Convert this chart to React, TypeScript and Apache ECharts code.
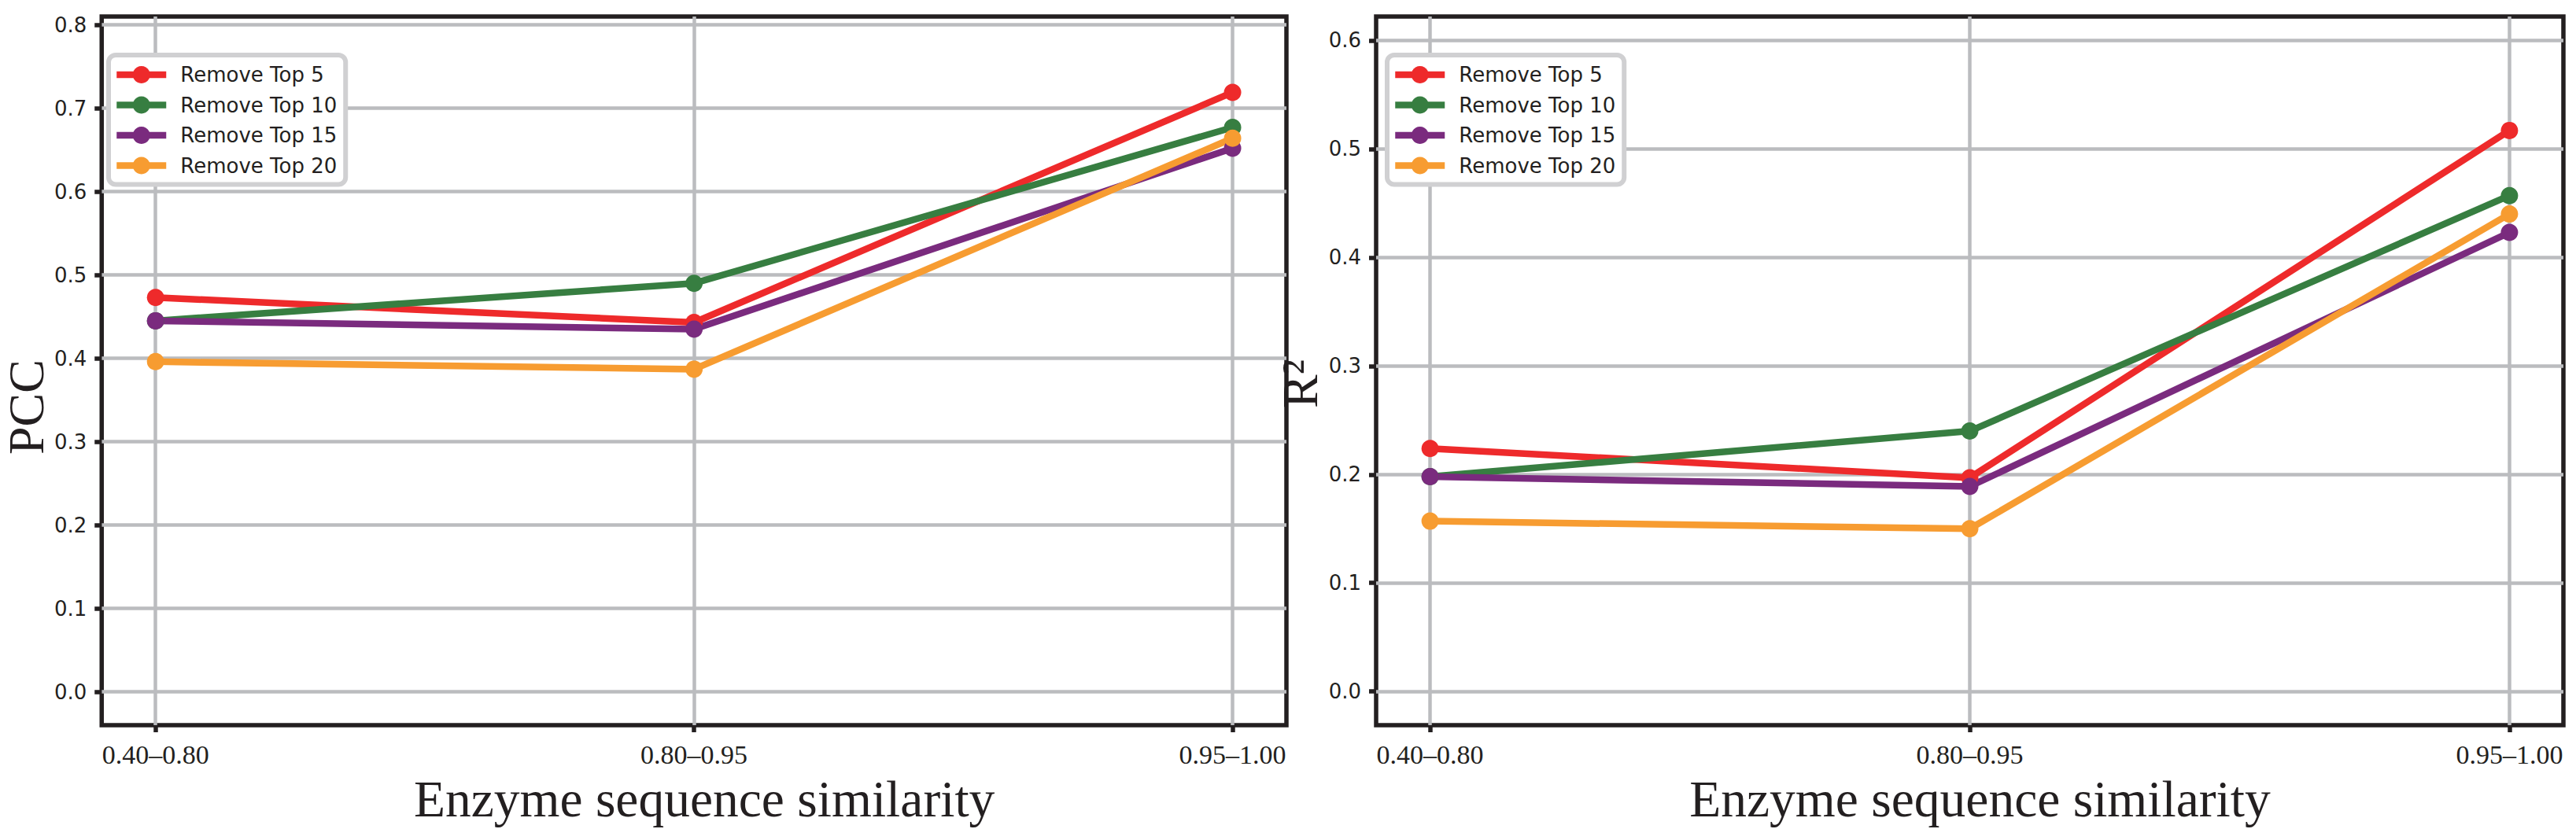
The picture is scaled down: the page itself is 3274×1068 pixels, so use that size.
import React, { useEffect, useRef } from 'react';
import * as echarts from 'echarts';

const categories = ['0.40–0.80', '0.80–0.95', '0.95–1.00'];
const categoryIndex = [0, 1, 2];
const seriesNames = ['Remove Top 5', 'Remove Top 10', 'Remove Top 15', 'Remove Top 20'];
const seriesColors = ['#ee2a2b', '#377e41', '#7a2b7e', '#f79c31'];

const pccTop5 = [0.473, 0.443, 0.719];
const pccTop10 = [0.445, 0.49, 0.677];
const pccTop15 = [0.445, 0.435, 0.652];
const pccTop20 = [0.396, 0.387, 0.664];

const r2Top5 = [0.224, 0.197, 0.517];
const r2Top10 = [0.198, 0.24, 0.457];
const r2Top15 = [0.198, 0.189, 0.423];
const r2Top20 = [0.157, 0.15, 0.44];

const pccTicks = [0, 0.1, 0.2, 0.3, 0.4, 0.5, 0.6, 0.7, 0.8];
const r2Ticks = [0, 0.1, 0.2, 0.3, 0.4, 0.5, 0.6];

const pccValues = [pccTop5, pccTop10, pccTop15, pccTop20];
const r2Values = [r2Top5, r2Top10, r2Top15, r2Top20];

const INK = '#231f20';
const GRIDC = '#bbbcbf';

function makeX(gridIndex: number) {
  return {
    type: 'value',
    gridIndex,
    min: -0.1,
    max: 2.1,
    name: 'Enzyme sequence similarity',
    nameLocation: 'middle',
    nameGap: 61,
    nameTextStyle: { fontFamily: 'Liberation Serif', fontSize: 65.5, color: INK, padding: [0, 0, 0, 26] },
    axisLine: { show: false, onZero: false },
    axisTick: { show: true, inside: false, length: 9, customValues: categoryIndex, lineStyle: { color: INK, width: 5.5 } },
    axisLabel: {
      customValues: categoryIndex,
      formatter: (v: number) => categories[Math.round(v)],
      fontFamily: 'Liberation Serif',
      fontSize: 34,
      color: INK,
      margin: 20,
    },
    splitLine: { show: true, lineStyle: { color: GRIDC, width: 4.5 } },
  };
}

function makeY(gridIndex: number, name: string, min: number, max: number, ticks: number[], nameGap: number, shift: number) {
  return {
    type: 'value',
    gridIndex,
    min,
    max,
    name,
    nameLocation: 'middle',
    nameGap,
    nameTextStyle: { fontFamily: 'Liberation Serif', fontSize: 64, color: INK, padding: [0, shift, 0, 0] },
    axisLine: { show: false, onZero: false },
    axisTick: { show: true, inside: false, length: 9, customValues: ticks, lineStyle: { color: INK, width: 5.5 } },
    axisLabel: {
      customValues: ticks,
      formatter: (v: number) => v.toFixed(1),
      fontFamily: 'DejaVu Sans',
      fontSize: 26,
      color: INK,
      margin: 19,
    },
    splitLine: { show: true, lineStyle: { color: GRIDC, width: 4.5 } },
  };
}

function makeLegend(left: number) {
  return {
    orient: 'vertical',
    left,
    top: 70,
    data: seriesNames,
    itemWidth: 63,
    itemHeight: 27.5,
    itemGap: 12.5,
    padding: [12, 11, 11, 6],
    backgroundColor: '#ffffff',
    borderColor: '#d0d0d2',
    borderWidth: 6,
    borderRadius: 9,
    lineStyle: { width: 8.5 },
    textStyle: {
      fontFamily: 'DejaVu Sans',
      fontSize: 26,
      color: INK,
      padding: [0, 0, 0, 13],
    },
  };
}

function makeSeries(values: number[][], axisIndex: number) {
  return values.map((vals, i) => ({
    type: 'line',
    name: seriesNames[i],
    xAxisIndex: axisIndex,
    yAxisIndex: axisIndex,
    data: vals.map((v, j) => [categoryIndex[j], v]),
    symbol: 'circle',
    symbolSize: 22,
    lineStyle: { color: seriesColors[i], width: 8.5 },
    itemStyle: { color: seriesColors[i] },
    color: seriesColors[i],
  }));
}

export default function App() {
  const ref = useRef<HTMLDivElement>(null);
  useEffect(() => {
    document.body.style.margin = '0';
    if (!ref.current) return;
    const chart = echarts.init(ref.current, undefined, { renderer: 'svg' });
    chart.setOption({
      animation: false,
      backgroundColor: '#ffffff',
      grid: [
        { left: 122, right: 3274 - 1635, top: 21, bottom: 146, show: true, borderColor: INK, borderWidth: 5.5, backgroundColor: 'transparent' },
        { left: 1749, right: 3274 - 3258, top: 21, bottom: 146, show: true, borderColor: INK, borderWidth: 5.5, backgroundColor: 'transparent' },
      ],
      xAxis: [makeX(0), makeX(1)],
      yAxis: [
        makeY(0, 'PCC', -0.04, 0.81, pccTicks, 46, 92),
        makeY(1, 'R²', -0.031, 0.622, r2Ticks, 45, 33),
      ],
      legend: [makeLegend(138), makeLegend(1763)],
      series: [...makeSeries(pccValues, 0), ...makeSeries(r2Values, 1)],
    });
    return () => chart.dispose();
  }, []);
  return <div ref={ref} style={{ width: 3274, height: 1068 }} />;
}
